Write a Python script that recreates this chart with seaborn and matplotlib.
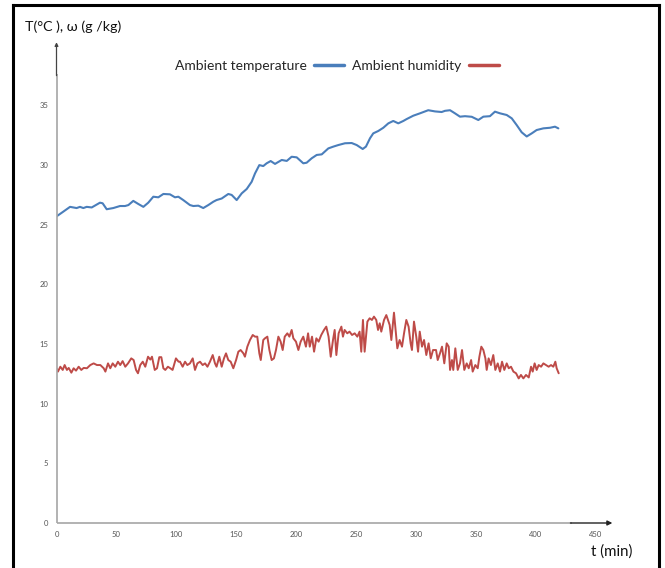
import numpy as np
import pandas as pd
import matplotlib
matplotlib.use("Agg")
import matplotlib.pyplot as plt
from matplotlib.lines import Line2D
import seaborn as sns

# ---- data ----
temp_t = [0, 5.7, 11.3, 16.8, 19.6, 22.4, 25.2, 29.4, 36.3, 38.5, 41.9, 47.4, 53.0, 57.2, 60.0,
          64.1, 68.3, 72.5, 76.6, 80.8, 85.0, 89.2, 94.7, 98.9, 101.7, 105.8, 111.4, 114.2, 118.4,
          122.5, 126.7, 130.9, 133.6, 137.9, 143.4, 146.2, 150.4, 154.6, 158.8, 162.9, 165.7, 169.3,
          172.6, 175.4, 178.8, 182.4, 188.0, 192.2, 196.3, 200.5, 206.0, 208.8, 213.0, 217.2, 221.4,
          226.9, 231.1, 235.2, 240.8, 246.4, 250.6, 255.6, 258.3, 261.7, 264.4, 268.6, 272.8, 277.0,
          281.1, 285.3, 289.5, 292.3, 297.8, 303.4, 310.3, 316.0, 321.5, 324.3, 328.5, 332.6, 336.8,
          341.0, 346.6, 352.1, 356.3, 361.8, 366.0, 370.2, 375.8, 380.0, 384.1, 388.3, 392.5, 396.7,
          400.8, 406.4, 412.0, 416.1, 418.9]
temp_v = [25.7, 26.1, 26.5, 26.4, 26.5, 26.4, 26.5, 26.45, 26.85, 26.8, 26.3, 26.4, 26.57, 26.57, 26.65,
          27.0, 26.74, 26.5, 26.85, 27.35, 27.3, 27.58, 27.55, 27.3, 27.35, 27.07, 26.65, 26.57, 26.6,
          26.4, 26.65, 26.93, 27.07, 27.2, 27.58, 27.5, 27.07, 27.63, 28.0, 28.6, 29.3, 30.0,
          29.92, 30.15, 30.34, 30.1, 30.43, 30.35, 30.7, 30.65, 30.15, 30.2, 30.57, 30.85, 30.9,
          31.4, 31.55, 31.68, 31.83, 31.85, 31.68, 31.35, 31.55, 32.25, 32.66, 32.86, 33.13, 33.5,
          33.7, 33.5, 33.7, 33.86, 34.14, 34.34, 34.6, 34.5, 34.45, 34.55, 34.6, 34.34, 34.06,
          34.1, 34.05, 33.78, 34.06, 34.1, 34.48, 34.34, 34.2, 33.92, 33.36, 32.75, 32.4, 32.66,
          32.94, 33.08, 33.13, 33.22, 33.08]

hum_t = [0, 1.2, 3.2, 5.2, 6.8, 8.7, 10.2, 12.4, 14.3, 16.3, 18.5, 20.7, 22.7, 25.4, 28.2, 31.0,
         33.8, 36.6, 39.4, 40.8, 43.0, 44.9, 46.9, 49.1, 51.3, 53.2, 55.2, 57.4, 59.7, 62.4, 64.4,
         66.4, 68.0, 69.9, 72.0, 74.1, 76.4, 78.3, 79.7, 82.0, 83.9, 85.8, 87.5, 89.2, 90.8, 93.0,
         95.0, 96.9, 99.7, 101.9,
         103.1, 105.3, 107.3, 109.2, 111.4, 113.7, 115.6, 117.6, 119.8, 122.0, 124.0, 126.0, 128.1,
         130.4, 132.3, 133.6, 135.9, 137.9, 139.8, 141.5, 143.4, 145.4, 147.6, 149.9, 151.8, 153.7,
         156.0, 157.3, 159.3, 161.5, 163.8, 165.7, 167.6, 169.3, 170.5, 172.6, 174.0, 176.0, 177.7,
         179.6, 181.5, 183.2, 185.2, 187.1, 188.8, 190.5, 192.7, 194.4, 196.3, 197.7, 199.9, 201.9,
         203.8, 206.0, 208.2,
         210.0, 211.4, 213.3, 215.0, 216.9, 218.8, 221.0, 223.3, 225.2, 227.1, 228.9, 230.8, 232.2,
         233.6, 235.5, 237.8, 239.1, 240.5, 242.7, 244.6, 246.7, 248.9, 251.1, 253.0, 254.4, 255.8,
         257.2, 259.5, 261.4, 263.3, 265.0, 266.9, 268.4, 269.8, 271.1, 273.4, 275.3, 276.7, 278.1,
         279.5, 281.7, 282.8, 284.5, 286.4, 288.4, 290.1, 292.0, 293.9, 295.6, 296.7, 298.4, 300.3,
         301.8, 303.2, 305.1, 306.8, 308.7, 310.6, 312.4, 314.3,
         316.8, 318.2, 320.1, 321.8, 323.7, 325.7, 327.4, 328.5, 330.1, 331.2, 332.9, 334.9, 336.8,
         338.5, 340.4, 342.4, 344.1, 346.1, 347.4, 349.6, 351.6, 353.0, 354.6, 356.3, 358.0, 359.1,
         360.7, 362.6, 364.6, 366.3, 368.3, 370.2, 371.9, 373.8, 375.8, 377.5, 379.4, 381.4, 383.6,
         385.8, 387.7, 389.7, 391.9, 394.2, 396.1, 397.5, 399.1, 400.8, 402.5, 404.5, 406.4, 408.6,
         410.8, 412.8, 414.7, 416.4, 417.5, 419.2]
hum_v = [12.97, 12.69, 13.1, 12.83, 13.24, 12.83, 13.0, 12.6, 12.97, 12.77, 13.1, 12.83, 13.0, 12.97,
         13.24, 13.38, 13.24, 13.24, 12.97, 12.69, 13.38, 12.97, 13.38, 13.1, 13.52, 13.24, 13.57,
         13.1, 13.38, 13.8, 13.66, 12.83, 12.55, 13.24, 13.52, 13.1, 13.94, 13.7, 13.94, 12.83,
         12.97, 13.9, 13.9, 12.97, 12.83, 13.1, 12.97, 12.83, 13.8, 13.52,
         13.52, 13.1, 13.52, 13.24, 13.38, 13.8, 12.83, 13.38, 13.52, 13.24, 13.38, 13.1, 13.52,
         14.08, 13.38, 13.1, 13.94, 13.1, 13.8, 14.22, 13.66, 13.52, 12.97, 13.66, 14.36, 14.5,
         14.22, 13.94, 14.78, 15.34, 15.76, 15.62, 15.62, 14.22, 13.66, 15.34, 15.48, 15.62, 14.5,
         13.66, 13.8, 14.5, 15.62, 15.2, 14.5, 15.62, 15.9, 15.62, 16.18, 15.48, 15.2, 14.5,
         15.2, 15.62, 14.78,
         15.9, 14.78, 15.62, 14.36, 15.48, 15.2, 15.76, 16.18, 16.46, 15.62, 13.94, 15.34, 16.18,
         14.08, 15.9, 16.46, 15.62, 16.18, 15.9, 16.04, 15.76, 15.9, 15.62, 16.04, 14.36, 17.02,
         14.36, 16.88, 17.16, 17.02, 17.3, 17.02, 16.18, 16.74, 16.04, 17.02, 17.43, 17.02, 16.6,
         15.34, 17.63, 16.46, 14.64, 15.34, 14.78, 15.9, 17.02, 16.46, 15.06, 14.5, 16.88, 15.62,
         14.36, 16.04, 14.78, 15.34, 14.08, 15.06, 13.8, 14.5,
         14.5, 13.66, 14.22, 14.78, 13.38, 15.06, 14.78, 12.83, 13.66, 12.83, 14.64, 12.83, 13.38,
         14.5, 12.83, 13.38, 12.97, 13.66, 12.69, 13.24, 12.97, 13.94, 14.78, 14.5, 13.8, 12.83,
         13.8, 13.24, 14.08, 12.83, 13.38, 12.69, 13.52, 12.83, 13.38, 12.97, 13.1, 12.69, 12.55,
         12.12, 12.41, 12.12, 12.41, 12.2, 13.1, 12.69, 13.38, 12.83, 13.24, 13.1, 13.38, 13.24,
         13.1, 13.24, 13.1, 13.52, 12.97, 12.55]

x_ticks = [0, 50, 100, 150, 200, 250, 300, 350, 400, 450]
y_ticks = [0, 5, 10, 15, 20, 25, 30, 35]
series_names = ["Ambient temperature", "Ambient humidity"]
series_colors = ["#4a7ebb", "#be4b48"]

df_temp = pd.DataFrame({"t": temp_t, "v": temp_v})
df_hum = pd.DataFrame({"t": hum_t, "v": hum_v})

sns.set_style("white")
plt.rcParams["font.family"] = ["Lato", "DejaVu Sans"]

W, H = 665, 568
fig = plt.figure(figsize=(W / 100, H / 100), dpi=100)
xmax, ymax = 470, 41
px_per_t = 1.198
px_per_v = 11.93
x0_px, y0_px = 56.5, 523
ax = fig.add_axes([x0_px / W, (H - y0_px) / H, xmax * px_per_t / W, ymax * px_per_v / H])

sns.lineplot(data=df_temp, x="t", y="v", ax=ax, color=series_colors[0], lw=1.5,
             estimator=None, sort=False)
sns.lineplot(data=df_hum, x="t", y="v", ax=ax, color=series_colors[1], lw=1.4,
             estimator=None, sort=False)

ax.set_xlim(0, xmax)
ax.set_ylim(0, ymax)
for s in ax.spines.values():
    s.set_visible(False)
ax.set_xlabel("")
ax.set_ylabel("")
ax.set_xticks(x_ticks)
ax.set_yticks(y_ticks)
ax.tick_params(axis="both", labelsize=5.5, length=3, width=0.6, direction="out", pad=3)
ax.tick_params(axis="x", colors="#999999", labelcolor="#555555")
ax.tick_params(axis="y", colors="#999999", labelcolor="#555555")

# axes lines with arrows
ax.plot([0, 430], [0, 0], color="#a6a6a6", lw=1.2, clip_on=False, solid_capstyle="butt")
ax.annotate("", xy=(464, 0), xytext=(429, 0), xycoords="data",
            arrowprops=dict(arrowstyle="-|>", color="#222222", lw=1.0,
                            mutation_scale=7, shrinkA=0, shrinkB=0),
            annotation_clip=False)
ax.plot([0, 0], [0, 37.6], color="#a6a6a6", lw=1.2, clip_on=False, solid_capstyle="butt")
ax.annotate("", xy=(0, 40.3), xytext=(0, 37.5), xycoords="data",
            arrowprops=dict(arrowstyle="-|>", color="#444444", lw=0.9,
                            mutation_scale=5, shrinkA=0, shrinkB=0),
            annotation_clip=False)

# legend: text first, then line sample
handles = [Line2D([], [], color=c, lw=2.5) for c in series_colors]
leg = ax.legend(handles, series_names, loc="center", bbox_to_anchor=(337 / W, 1 - 66 / H),
                bbox_transform=fig.transFigure, ncol=2, frameon=False, markerfirst=False,
                fontsize=10, handlelength=2.2, handletextpad=0.5, columnspacing=0.6)

fig.text(25 / W, 1 - 27 / H, "T(°C ), ω (g /kg)", fontsize=10.3, ha="left", va="center",
         color="#111111")
fig.text(591 / W, 1 - 552 / H, "t (min)", fontsize=10.8, ha="left", va="center", color="#111111")

# outer frame
for xs, ys in [([13 / W, 13 / W], [0, 1 - 5 / H]),
               ([13 / W, 659 / W], [1 - 5 / H, 1 - 5 / H]),
               ([659 / W, 659 / W], [0, 1 - 5 / H])]:
    fig.add_artist(Line2D(xs, ys, color="black", lw=2.2, transform=fig.transFigure,
                          solid_capstyle="projecting"))

fig.savefig("out.png", dpi=100, facecolor="white")
